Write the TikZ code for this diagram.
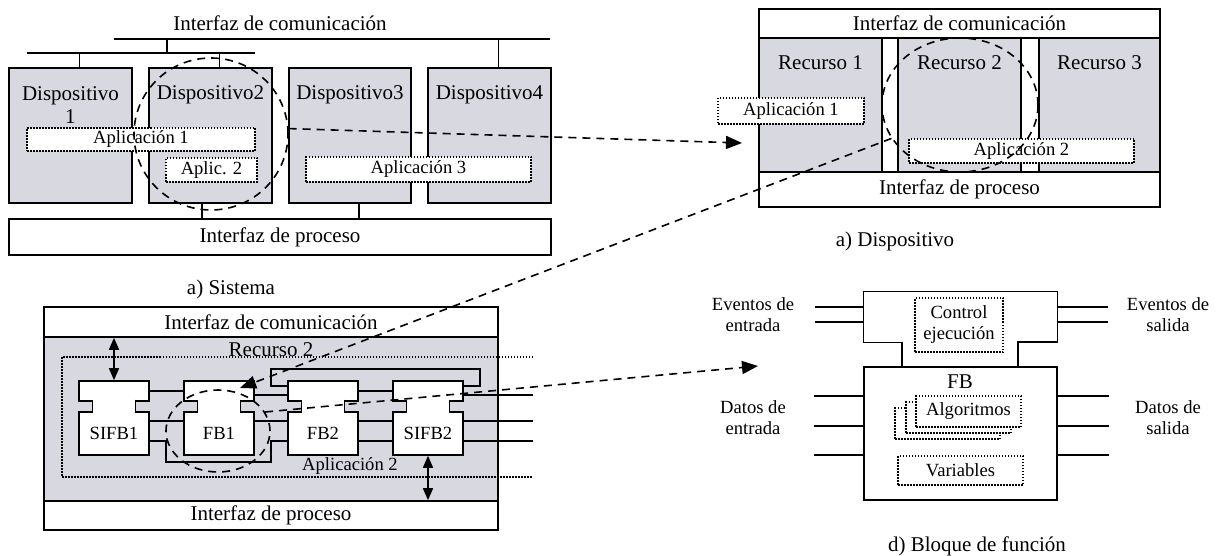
\documentclass[tikz,border=0pt]{standalone}
\usepackage{fontspec}
\setmainfont{Liberation Serif}
\usetikzlibrary{arrows.meta,positioning,fit,calc,shapes.geometric}
\definecolor{resfill}{RGB}{216,216,225}
\newcommand{\lblfont}{\fontsize{10.5}{11.5}\selectfont}
\newcommand{\tagfont}{\fontsize{9.3}{10.5}\selectfont}

\begin{document}
\begin{tikzpicture}[
    x=0.5pt,y=-0.5pt,
    box/.style={rectangle,draw=black,line width=0.8pt,fill=white,inner sep=0pt},
    resbox/.style={box,fill=resfill},
    neck/.style={rectangle,fill=white,draw=none,inner sep=0pt,minimum width=21pt,minimum height=6.4pt},
    appbox/.style={rectangle,draw=black,line width=0.75pt,dash pattern=on 0.75pt off 0.75pt,fill=white,inner sep=0pt},
    frame/.style={line width=0.75pt,dash pattern=on 0.75pt off 0.75pt},
    ring/.style={ellipse,draw=black,line width=0.8pt,dash pattern=on 4pt off 3pt,inner sep=0pt},
    wire/.style={line width=0.75pt},
    zoomarrow/.style={-{Triangle[length=8pt,width=6.5pt]},line width=0.8pt,dash pattern=on 4pt off 3pt},
    ioarrow/.style={{Triangle[length=6pt,width=5pt]}-{Triangle[length=6pt,width=5pt]},line width=0.8pt},
    txt/.style={inner sep=0pt}
]
\useasboundingbox (0,0) rectangle (1217,556);

% a) Sistema
\node[txt,font=\lblfont,anchor=base] (syscomm) at (280,31) {Interfaz de comunicación};
\coordinate (busL) at (114,39);
\coordinate (busR) at (550,39);
\coordinate (subL) at (27,53);
\coordinate (subR) at (255,53);
\coordinate (tap) at (167,39);
\node[resbox,fit={(9,68)(132,203)}] (dev1) {};
\node[resbox,fit={(149,68)(272,203)}] (dev2) {};
\node[resbox,fit={(289,68)(411,203)}] (dev3) {};
\node[resbox,fit={(428,68)(551,203)}] (dev4) {};
\node[box,fit={(9,219)(551,255)}] (sysproc) {};
\node[txt,font=\lblfont] at (sysproc) {Interfaz de proceso};
\node[txt,font=\lblfont,align=center,anchor=north] at (70.5,86) {Dispositivo\\1};
\node[txt,font=\lblfont,anchor=base] at (210.5,100) {Dispositivo2};
\node[txt,font=\lblfont,anchor=base] at (350,100) {Dispositivo3};
\node[txt,font=\lblfont,anchor=base] at (489.5,100) {Dispositivo4};
\coordinate (d1top) at ([xshift=4.5pt]dev1.north);
\coordinate (d2top) at ([xshift=4.5pt]dev2.north);
\coordinate (d4top) at ([xshift=4.5pt]dev4.north);
\coordinate (d2bot) at ([xshift=-4.25pt]dev2.south);
\coordinate (d3bot) at ([xshift=4.5pt]dev3.south);
\draw[wire] (busL) -- (busR);
\draw[wire] (subL) -- (subR);
\draw[wire] (tap) -- (tap |- subL);
\draw[wire] (d1top) -- (d1top |- subL);
\draw[wire] (d2top) -- (d2top |- subL);
\draw[wire] (d4top) -- (d4top |- busR);
\draw[wire] (d2bot) -- (d2bot |- sysproc.north);
\draw[wire] (d3bot) -- (d3bot |- sysproc.north);
\node[appbox,fit={(27,128)(255,151)}] (app1) {};
\node[txt,font=\tagfont] at (app1) {Aplicación 1};
\node[appbox,fit={(166,158)(257,182)}] (app2) {};
\node[txt,font=\tagfont] at (app2) {Aplic. 2};
\node[appbox,fit={(306,157)(531,182)}] (app3) {};
\node[txt,font=\tagfont] at (app3) {Aplicación 3};
\node[ring,minimum width=77pt,minimum height=76pt] (ringA) at (211,134) {};
\node[txt,font=\lblfont,anchor=base] at (231,294) {a) Sistema};

% a) Dispositivo
\node[box,fit={(759,9)(1160,38)}] (devcomm) {};
\node[txt,font=\lblfont] at (devcomm) {Interfaz de comunicación};
\node[resbox,fit={(759,38)(882,172)}] (res1) {};
\node[resbox,fit={(898,38)(1021,172)}] (res2) {};
\node[resbox,fit={(1039,38)(1160,172)}] (res3) {};
\node[box,fit={(759,172)(1160,207)}] (devproc) {};
\node[txt,font=\lblfont] at (devproc) {Interfaz de proceso};
\node[txt,font=\lblfont,anchor=base] at (820.5,70) {Recurso 1};
\node[txt,font=\lblfont,anchor=base] at (959.5,70) {Recurso 2};
\node[txt,font=\lblfont,anchor=base] at (1099.5,70) {Recurso 3};
\node[appbox,fit={(718,98)(864,124)}] (devapp1) {};
\node[txt,font=\tagfont] at (devapp1) {Aplicación 1};
\node[appbox,fit={(909,139)(1134,163)}] (devapp2) {};
\node[txt,font=\tagfont] at (devapp2) {Aplicación 2};
\node[ring,minimum width=78pt,minimum height=67pt] (ringB) at (960,105) {};
\node[txt,font=\lblfont,anchor=base] at (895,247) {a) Dispositivo};

% Recurso 2 con la aplicacion
\node[box,fit={(44,307)(498,337)}] (rescomm) {};
\node[txt,font=\lblfont] at (rescomm) {Interfaz de comunicación};
\node[resbox,fit={(44,337)(498,501)}] (resarea) {};
\node[box,fit={(44,501)(498,530)}] (resproc) {};
\node[txt,font=\lblfont] at (resproc) {Interfaz de proceso};
\coordinate (frameTR) at (533,357);
\coordinate (frameBL) at (62,477);
\coordinate (frameBR) at (533,477);
\draw[frame] (frameTR) -| (frameBL) -- (frameBR);
\node[txt,font=\lblfont,anchor=base] at (271,357) {Recurso 2};
\node[txt,font=\tagfont,anchor=base] at (350,470) {Aplicación 2};
\foreach \nm/\xc/\lab in {sifb1/114/SIFB1,fb1/219/FB1,fb2/323/FB2,sifb2/428/SIFB2}{
  \node[box,minimum width=35pt,minimum height=10pt] (\nm-h) at (\xc,391) {};
  \node[box,minimum width=35pt,minimum height=21.5pt,font=\tagfont] (\nm-b) at (\xc,433.5) {\lab};
  \node[neck] (\nm-n) at (\xc,406.5) {};
  \draw[wire,line width=0.8pt] (\nm-n.north west) -- (\nm-n.south west) (\nm-n.north east) -- (\nm-n.south east);
}
\coordinate (evhi) at (0,386);
\coordinate (evlo) at (0,395);
\coordinate (dthi) at (0,421);
\coordinate (dtlo) at (0,441);
\coordinate (loopR) at (480,369);
\coordinate (loopL) at (271,369);
\coordinate (byL) at (166,462);
\coordinate (byR) at (271,462);
\coordinate (evout) at (533,395);
\coordinate (dtout1) at (533,421);
\coordinate (dtout2) at (533,441);
\draw[wire] (sifb1-h) -- (fb1-h);
\draw[wire] (fb1-h.east |- evlo) -- (fb2-h.west |- evlo);
\draw[wire] (fb2-h) -- (sifb2-h);
\draw[wire] (sifb2-h.east |- evhi) -| (loopR) -- (loopL) |- (fb2-h.west |- evhi);
\draw[wire] (sifb2-h.east |- evlo) -- (evout);
\draw[wire] (sifb1-b.east |- dthi) -- (fb1-b.west |- dthi);
\draw[wire] (sifb1-b.east |- dtlo) -| (byL) -- (byR) |- (fb2-b.west |- dtlo);
\draw[wire] (fb1-b.east |- dthi) -- (fb2-b.west |- dthi);
\draw[wire] (fb2-b.east |- dthi) -- (sifb2-b.west |- dthi);
\draw[wire] (fb2-b.east |- dtlo) -- (sifb2-b.west |- dtlo);
\draw[wire] (sifb2-b.east |- dthi) -- (dtout1);
\draw[wire] (sifb2-b.east |- dtlo) -- (dtout2);
\draw[ioarrow] (sifb1-h.north) -- (sifb1-h.north |- rescomm.south);
\draw[ioarrow] (sifb2-b.south) -- (sifb2-b.south |- resproc.north);
\node[ring,minimum width=52pt,minimum height=41pt] (ringC) at (218,431) {};

% d) Bloque de funcion
\node[fit={(864,292)(1057,342)},inner sep=0pt] (fbev) {};
\node[box,fit={(864,367)(1057,500)}] (fbdata) {};
\draw[wire,line width=0.8pt] (902,367) |- (fbev.south west) |- (fbev.north east) |- (1018,342) -- (1018,367);
\node[appbox,fit={(915,298)(1003,352)}] (ctrl) {};
\node[txt,font=\tagfont,align=center] at (ctrl) {Control\\ejecución};
\node[txt,font=\lblfont,anchor=base] at (960,388) {FB};
\node[appbox,fit={(895,408)(1000,439)}] (alg3) {};
\node[appbox,fit={(906,402)(1011,433)}] (alg2) {};
\node[appbox,fit={(916,396)(1021,427)}] (alg1) {};
\node[txt,font=\tagfont] at (alg1) {Algoritmos};
\node[appbox,fit={(898,456)(1023,485)}] (vars) {};
\node[txt,font=\tagfont] at (vars) {Variables};
\foreach \yy in {307,322}{
  \coordinate (lvl) at (0,\yy);
  \draw[wire] (fbev.west |- lvl) -- ++(-49,0);
  \draw[wire] (fbev.east |- lvl) -- ++(51,0);
}
\foreach \yy in {396,426,455}{
  \coordinate (lvl) at (0,\yy);
  \draw[wire] (fbdata.west |- lvl) -- ++(-49,0);
  \draw[wire] (fbdata.east |- lvl) -- ++(51,0);
}
\node[txt,font=\tagfont,align=center] (evin) at (753,315) {Eventos de\\entrada};
\node[txt,font=\tagfont,align=center] (dtin) at (753,418) {Datos de\\entrada};
\node[txt,font=\tagfont,align=center] (evo) at (1168,315) {Eventos de\\salida};
\node[txt,font=\tagfont,align=center] (dto) at (1168,418) {Datos de\\salida};
\node[txt,font=\lblfont,anchor=base] at (977,551) {d) Bloque de función};

% flechas de detalle
\coordinate (devBtip) at (742,143);
\coordinate (fbtip) at (758,366);
\draw[zoomarrow] (ringA.4) -- (devBtip);
\draw[zoomarrow,shorten >=4pt] (ringB.206) -- (ringC.70);
\draw[zoomarrow] (ringC.22) -- (fbtip);
\end{tikzpicture}
\end{document}
